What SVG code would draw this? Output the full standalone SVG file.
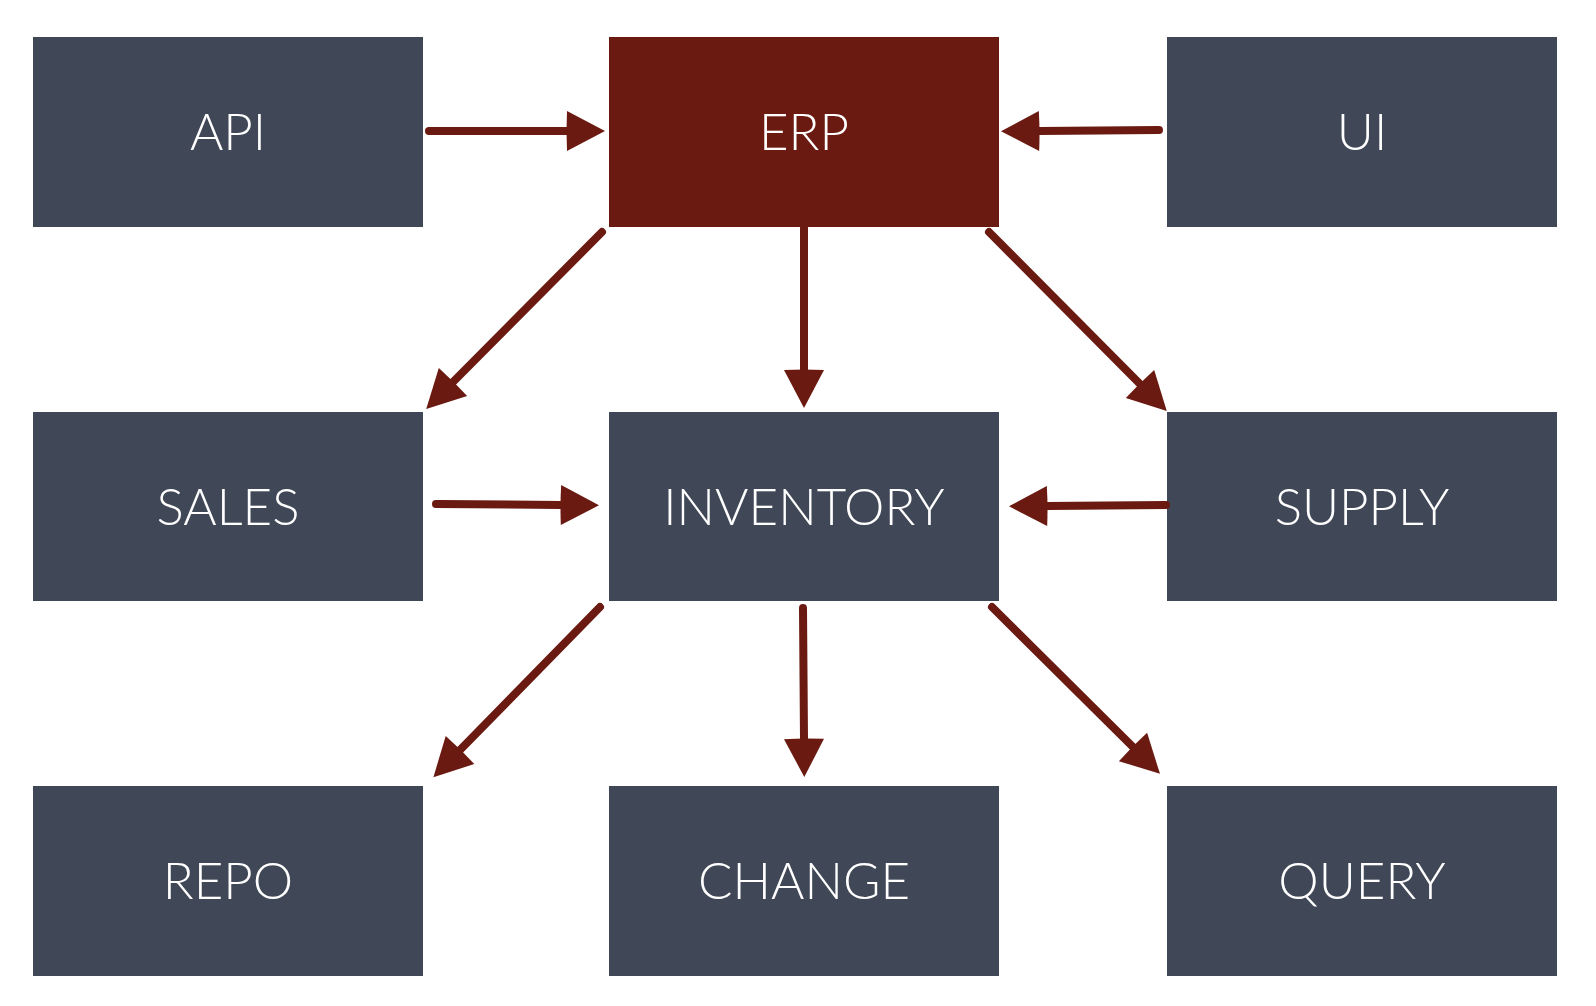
<svg xmlns="http://www.w3.org/2000/svg" width="1596" height="1006" viewBox="0 0 1596 1006">
<style>
.box{fill:#404756}
.hub{fill:#6A1A10}
.lbl{font-family:Lato,"Open Sans","Liberation Sans",sans-serif;font-weight:300;font-size:51px;fill:#ffffff;text-anchor:middle}
.arr{stroke:#6A1A10;stroke-width:8;stroke-linecap:round;fill:none;marker-end:url(#head)}
</style>
<defs>
<marker id="head" markerUnits="userSpaceOnUse" markerWidth="42" markerHeight="46" viewBox="-2 -23 42 46" refX="0" refY="0" orient="auto">
<path d="M0,-20 L38,0 L0,20 Q-1,0 0,-20 Z" fill="#6A1A10"/>
</marker>
</defs>
<rect width="1596" height="1006" fill="#ffffff"/>
<g id="node-api"><rect class="box" x="33" y="37" width="390" height="190"/><text class="lbl" x="228" y="150">API</text></g>
<g id="node-erp"><rect class="hub" x="609" y="37" width="390" height="190"/><text class="lbl" x="804" y="150">ERP</text></g>
<g id="node-ui"><rect class="box" x="1167" y="37" width="390" height="190"/><text class="lbl" x="1362" y="150">UI</text></g>
<g id="node-sales"><rect class="box" x="33" y="412" width="390" height="189"/><text class="lbl" x="228" y="525">SALES</text></g>
<g id="node-inventory"><rect class="box" x="609" y="412" width="390" height="189"/><text class="lbl" x="804" y="525">INVENTORY</text></g>
<g id="node-supply"><rect class="box" x="1167" y="412" width="390" height="189"/><text class="lbl" x="1362" y="525">SUPPLY</text></g>
<g id="node-repo"><rect class="box" x="33" y="786" width="390" height="190"/><text class="lbl" x="228" y="899">REPO</text></g>
<g id="node-change"><rect class="box" x="609" y="786" width="390" height="190"/><text class="lbl" x="804" y="899">CHANGE</text></g>
<g id="node-query"><rect class="box" x="1167" y="786" width="390" height="190"/><text class="lbl" x="1362" y="899">QUERY</text></g>
<g id="connectors">
<path class="arr" d="M429,131 L567,131"/>
<path class="arr" d="M1159,130 L1039,131"/>
<path class="arr" d="M602,232 L453,382"/>
<path class="arr" d="M804,228 L804,370"/>
<path class="arr" d="M989,232 L1140,384"/>
<path class="arr" d="M436,504 L561,505"/>
<path class="arr" d="M1166,505 L1047,506"/>
<path class="arr" d="M600,607 L460,750"/>
<path class="arr" d="M803,608 L804,739"/>
<path class="arr" d="M992,607 L1133,747"/>
</g>
</svg>
